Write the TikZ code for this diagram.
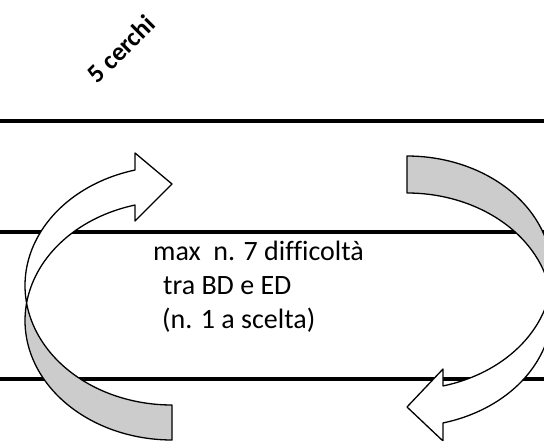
\documentclass[tikz,border=0pt]{standalone}
\usepackage{fontspec}
\setmainfont[Ligatures={NoCommon}]{Carlito}
\begin{document}
\begin{tikzpicture}[x=1pt,y=-1pt]
\useasboundingbox[fill=white] (0,0) rectangle (544,441);
\tikzset{
  rule/.style={line width=4.5pt},
  band/.style={draw=black, line width=1.3pt, line join=round},
  back/.style={band, fill=gray!40},
  front/.style={band, fill=white},
  txt/.style={anchor=base west, inner sep=0pt, font=\fontsize{28}{33}\selectfont},
}
% horizontal rules
\coordinate (r1a) at (0,121);  \coordinate (r1b) at (544,121);
\coordinate (r2a) at (0,232);  \coordinate (r2b) at (544,232);
\coordinate (r3a) at (0,379);  \coordinate (r3b) at (544,379);
\draw[rule] (r1a) -- (r1b);
\draw[rule] (r2a) -- (r2b);
\draw[rule] (r3a) -- (r3b);

% left curved arrow (back part)
\path[back] plot[domain=171.57:90,samples=60] ({172+147*cos(\x)},{285.6+119.4*sin(\x)})
  -- plot[domain=90:188.43,samples=60] ({172+147*cos(\x)},{320.6+119.4*sin(\x)}) -- cycle;
% left curved arrow (front part)
\coordinate (lht) at (135,153);
\coordinate (ltip) at (172,184);
\coordinate (lhb) at (135,221);
\path[front] plot[domain=171.57:255.42,samples=60] ({172+147*cos(\x)},{285.6+119.4*sin(\x)})
  -- (lht) -- (ltip) -- (lhb)
  -- plot[domain=255.42:188.43,samples=60] ({172+147*cos(\x)},{320.6+119.4*sin(\x)}) -- cycle;

% right curved arrow (back part)
\path[back] plot[domain=270:369.11,samples=60] ({407+145*cos(\x)},{272.8+116.8*sin(\x)})
  -- plot[domain=350.89:270,samples=60] ({407+145*cos(\x)},{309.8+116.8*sin(\x)}) -- cycle;
% right curved arrow (front part)
\coordinate (rht) at (443,369);
\coordinate (rtip) at (407,407);
\coordinate (rhb) at (443,441);
\path[front] plot[domain=9.11:75.62,samples=60] ({407+145*cos(\x)},{272.8+116.8*sin(\x)})
  -- (rht) -- (rtip) -- (rhb)
  -- plot[domain=75.62:-9.11,samples=60] ({407+145*cos(\x)},{309.8+116.8*sin(\x)}) -- cycle;

% texts
\node[txt] (t1) at (153,260) {max\ \ n. 7 difficoltà};
\node[txt] (t2) at (163,294) {tra BD e ED};
\node[txt] (t3) at (162,328) {(n. 1 a scelta)};
\node[rotate=45, inner sep=0pt, font=\bfseries\fontsize{26}{30}\selectfont] (title) at (121,49) {5 cerchi};
\end{tikzpicture}
\end{document}
